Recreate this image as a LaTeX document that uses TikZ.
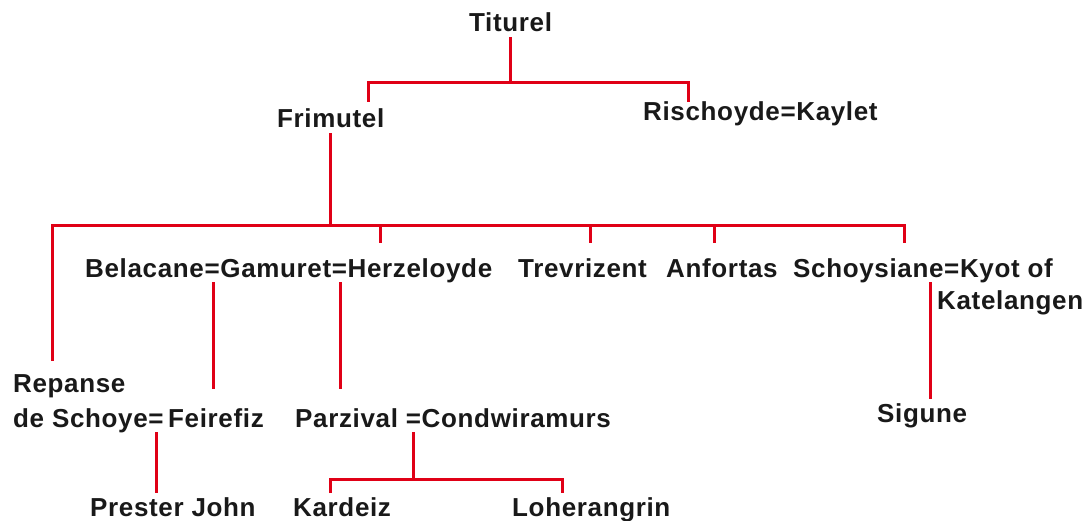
\documentclass[tikz,border=0pt]{standalone}
\usepackage{fontspec}
\setmainfont[LetterSpace=2.5]{Liberation Sans}
\definecolor{tiered}{RGB}{224,0,22}
\tikzset{
  person/.style = {anchor=base west, inner sep=0pt, text height=19pt,
                   text depth=5pt, text=black!90,
                   font=\fontsize{26}{30}\selectfont\bfseries},
  tie/.style    = {draw=tiered, line width=3pt},
}

\begin{document}
\begin{tikzpicture}[x=1pt, y=-1pt]
  \useasboundingbox (0,0) rectangle (1086,521);

  % first generations
  \node[person] (titurel)   at (469,32)  {Titurel};
  \node[person] (frimutel)  at (277,128) {Frimutel};
  \node[person] (rischoyde) at (643,121) {Rischoyde=Kaylet};

  \coordinate (top-bar)      at (508,83);
  \coordinate (frimutel-in)  at (368,102);
  \coordinate (rischoyde-in) at (688,102);
  \draw[tie] (titurel.south) -- (titurel.south |- top-bar);
  \draw[tie] (frimutel-in) |- (top-bar) -| (rischoyde-in);

  % children of Frimutel
  \node[person] (belacane)   at (85,277)  {Belacane=Gamuret=Herzeloyde};
  \node[person] (trevrizent) at (518,277) {Trevrizent};
  \node[person] (anfortas)   at (666,277) {Anfortas};
  \node[person] (schoysiane) at (793,277) {Schoysiane=Kyot of};
  \node[person] (katelangen) at (937,309) {Katelangen};
  \node[person] (repanse)    at (13,392)  {Repanse};
  \node[person] (schoye)     at (13,427)  {de Schoye=};

  \coordinate (mid-bar)       at (330,226);
  \coordinate (repanse-in)    at (52,361);
  \coordinate (schoysiane-in) at (904,243);
  \coordinate (belacane-in)   at (380,243);
  \coordinate (trevrizent-in) at (590,243);
  \coordinate (anfortas-in)   at (714,243);
  \draw[tie] (frimutel.south) -- (frimutel.south |- mid-bar);
  \draw[tie] (repanse-in) |- (mid-bar) -| (schoysiane-in);
  \foreach \c in {belacane-in, trevrizent-in, anfortas-in}
    \draw[tie] (\c |- mid-bar) -- (\c);

  % next generation
  \node[person] (feirefiz) at (168,427) {Feirefiz};
  \node[person] (parzival) at (295,427) {Parzival =Condwiramurs};
  \node[person] (sigune)   at (877,422) {Sigune};

  \coordinate (feirefiz-in) at (213,389);
  \coordinate (parzival-in) at (340,389);
  \coordinate (sigune-in)   at (930,399);
  \draw[tie] (belacane.south -| feirefiz-in) -- (feirefiz-in);
  \draw[tie] (belacane.south -| parzival-in) -- (parzival-in);
  \draw[tie] (schoysiane.south -| sigune-in) -- (sigune-in);

  % grandchildren
  \node[person] (prester)     at (90,516)  {Prester John};
  \node[person] (kardeiz)     at (293,516) {Kardeiz};
  \node[person] (loherangrin) at (512,516) {Loherangrin};

  \coordinate (prester-in)     at (156,493);
  \coordinate (kid-bar)        at (413,479);
  \coordinate (kardeiz-in)     at (330,493);
  \coordinate (loherangrin-in) at (562,493);
  \draw[tie] (schoye.south -| prester-in) -- (prester-in);
  \draw[tie] (parzival.south -| kid-bar) -- (kid-bar);
  \draw[tie] (kardeiz-in) |- (kid-bar) -| (loherangrin-in);
\end{tikzpicture}
\end{document}
